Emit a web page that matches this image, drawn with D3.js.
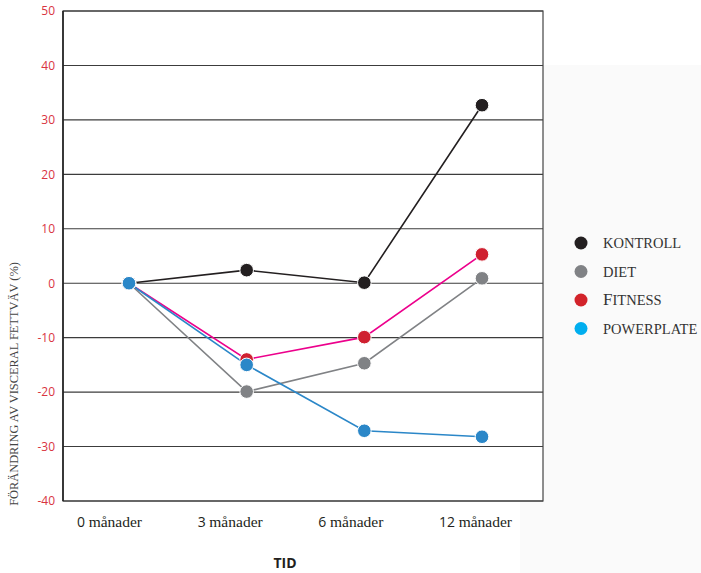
<!DOCTYPE html>
<html><head><meta charset="utf-8">
<script src="https://cdn.jsdelivr.net/npm/d3@7/dist/d3.min.js"></script>
<style>body{margin:0;background:#fff}svg{display:block}</style>
</head><body><svg id="c" width="701" height="573"></svg>
<script>
const categories = ["0","3","6","12"];
const categoryUnit = "månader";
const kontroll = [0, 2.4, 0.1, 32.7];
const diet = [0, -19.9, -14.7, 0.9];
const fitness = [0, -14.0, -9.9, 5.3];
const powerplate = [0, -15.0, -27.1, -28.2];
const yTicks = [50, 40, 30, 20, 10, 0, -10, -20, -30, -40];
const seriesNames = ["KONTROLL", "DIET", "FITNESS", "POWERPLATE"];
const yTitle = "FÖRÄNDRING AV VISCERAL FETTVÄV (%)";
const xTitle = "TID";

const series = [
  {name: seriesNames[0], values: kontroll, line: "#231f20", dot: "#231f20", legend: "#231f20"},
  {name: seriesNames[1], values: diet, line: "#808285", dot: "#808285", legend: "#808285"},
  {name: seriesNames[2], values: fitness, line: "#ec008c", dot: "#cf2030", legend: "#d2232a"},
  {name: seriesNames[3], values: powerplate, line: "#2b87c8", dot: "#2b87c8", legend: "#00aeef"}
];

const svg = d3.select("#c");
const L = 63, R = 543, T = 11, B = 501;
const sans = "'Open Sans', 'DejaVu Sans', sans-serif";
const serif = "'Liberation Serif', 'DejaVu Serif', serif";

// faint background panel
svg.append("rect").attr("x", 520).attr("y", 65).attr("width", 181).attr("height", 508).attr("fill", "#fafafa");
svg.append("rect").attr("x", L).attr("y", T).attr("width", R - L).attr("height", B - T).attr("fill", "#fff");

const y = d3.scaleLinear().domain([-40, 50]).range([B, T]);
const x = d3.scalePoint().domain(categories).range([129, 482]);
const xLab = d3.scalePoint().domain(categories).range([77, 439]);

// grid
svg.append("g").selectAll("line").data(yTicks).join("line")
  .attr("x1", L).attr("x2", R).attr("y1", d => y(d)).attr("y2", d => y(d))
  .attr("stroke", "#3c3c3c").attr("stroke-width", 1.1);
// frame
svg.append("rect").attr("x", L).attr("y", T).attr("width", R - L).attr("height", B - T)
  .attr("fill", "none").attr("stroke", "#444").attr("stroke-width", 1.2);
svg.append("line").attr("x1", L).attr("x2", L).attr("y1", T).attr("y2", B).attr("stroke", "#222").attr("stroke-width", 1.6);

// y tick labels
svg.append("g").selectAll("text").data(yTicks).join("text")
  .attr("x", 55).attr("y", d => y(d)).attr("dy", "0.36em")
  .attr("text-anchor", "end").attr("fill", "#d9343f")
  .style("font-family", sans).style("font-size", "12px")
  .text(d => d);

// x tick labels
const xl = svg.append("g").selectAll("text").data(categories).join("text")
  .attr("x", d => xLab(d)).attr("y", 527).attr("fill", "#231f20")
  .style("font-size", "15.5px");
xl.append("tspan").style("font-family", sans).style("font-size", "14px").text(d => d + " ");
xl.append("tspan").style("font-family", serif).text(categoryUnit);

// axis titles
svg.append("text").attr("transform", "translate(18,384) rotate(-90)")
  .attr("text-anchor", "middle").attr("fill", "#444")
  .style("font-family", serif).style("font-size", "12.4px").text(yTitle);
svg.append("text").attr("x", 285).attr("y", 568).attr("text-anchor", "middle")
  .attr("fill", "#231f20").style("font-family", sans).style("font-weight", "bold").style("font-size", "14px")
  .text(xTitle);

// lines
const line = d3.line().x((d, i) => x(categories[i])).y(d => y(d));
svg.append("g").selectAll("path").data(series).join("path")
  .attr("d", s => line(s.values)).attr("fill", "none")
  .attr("stroke", s => s.line).attr("stroke-width", 1.6);

// markers
series.forEach(s => {
  svg.append("g").selectAll("circle").data(s.values).join("circle")
    .attr("cx", (d, i) => x(categories[i])).attr("cy", d => y(d)).attr("r", 6.8)
    .attr("fill", s.dot).attr("stroke", "#fff").attr("stroke-width", 1);
});

// legend
const lg = svg.append("g").selectAll("g").data(series).join("g")
  .attr("transform", (s, i) => `translate(581,${243 + i * 28.5})`);
lg.append("circle").attr("r", 6.5).attr("fill", s => s.legend);
const lt = lg.append("text").attr("x", 22).attr("dy", "0.35em").attr("fill", "#333")
  .style("font-family", serif).style("font-size", "14.5px");
lt.each(function(s) {
  const t = d3.select(this);
  if (s.name === "FITNESS") {
    t.append("tspan").style("font-size", "17px").text(s.name[0]);
    t.append("tspan").text(s.name.slice(1));
  } else t.text(s.name);
});
</script></body></html>
